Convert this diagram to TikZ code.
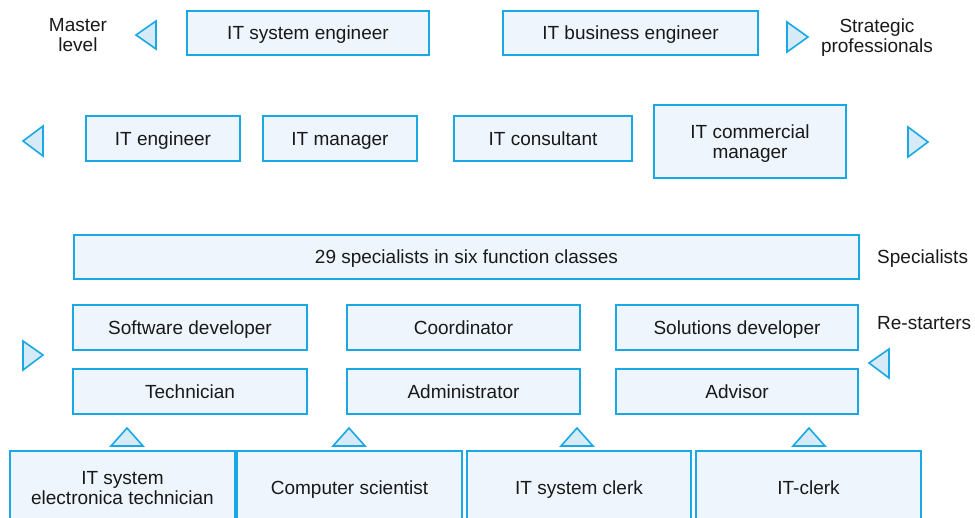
\documentclass[tikz,border=0pt]{standalone}
\usepackage{fontspec}
\setmainfont{Liberation Sans}
\begin{document}
\begin{tikzpicture}[x=1pt,y=-1pt,
  every node/.style={font=\fontsize{19}{20}\selectfont, text=black!90, align=center, inner sep=0pt,
    text height=13.6pt, text depth=0pt},
  twoline/.style={text height=33.6pt},
  box/.style={draw=edgeblue, fill=boxfill, line width=1.6pt},
  tri/.style={draw=edgeblue, fill=trifill, line width=1.6pt, line join=miter}]
\definecolor{edgeblue}{HTML}{1AA8E4}
\definecolor{boxfill}{HTML}{EEF5FC}
\definecolor{trifill}{HTML}{D6EAF8}
\useasboundingbox (0,0) rectangle (975,517);
\clip (0,0) rectangle (975,517);

% master / strategic level
\node[twoline] (master) at (78,35) {Master\\level};
\node[twoline] (strat) at (877,36) {Strategic\\professionals};
\node[box, minimum width=242pt, minimum height=44pt] (syseng) at (308,33) {IT system engineer};
\node[box, minimum width=255pt, minimum height=44pt] (buseng) at (630.5,33) {IT business engineer};
\draw[tri] (136,35) -- (156,21) -- (156,49) -- cycle;
\draw[tri] (808,37) -- (787,22) -- (787,52) -- cycle;

% professional level
\node[box, minimum width=154pt, minimum height=45pt] (iteng) at (163,138.5) {IT engineer};
\node[box, minimum width=154pt, minimum height=45pt] (itmgr) at (340,138.5) {IT manager};
\node[box, minimum width=178pt, minimum height=45pt] (itcons) at (543,138.5) {IT consultant};
\node[box, twoline, minimum width=192pt, minimum height=73pt] (itcomm) at (750,141.5) {IT commercial\\manager};
\draw[tri] (23,141) -- (43,126) -- (43,156) -- cycle;
\draw[tri] (928,142) -- (908,127) -- (908,157) -- cycle;

% specialists
\node[box, minimum width=785pt, minimum height=44pt] (spec) at (466.5,257) {29 specialists in six function classes};
\node[anchor=west] (speclbl) at (877,257) {Specialists};
\node[anchor=west] (restart) at (877,323) {Re-starters};

\node[box, minimum width=234pt, minimum height=45pt] (swdev) at (190,327.5) {Software developer};
\node[box, minimum width=233pt, minimum height=45pt] (coord) at (463.5,327.5) {Coordinator};
\node[box, minimum width=242pt, minimum height=45pt] (soldev) at (737,327.5) {Solutions developer};
\node[box, minimum width=234pt, minimum height=45pt] (tech) at (190,391.5) {Technician};
\node[box, minimum width=233pt, minimum height=45pt] (admin) at (463.5,391.5) {Administrator};
\node[box, minimum width=242pt, minimum height=45pt] (advis) at (737,391.5) {Advisor};
\draw[tri] (43,355) -- (23,341) -- (23,370) -- cycle;
\draw[tri] (869,363) -- (889,349) -- (889,378) -- cycle;

% entry level
\draw[tri] (127,428) -- (111,446) -- (143,446) -- cycle;
\draw[tri] (349,428) -- (333,446) -- (365,446) -- cycle;
\draw[tri] (577,428) -- (561,446) -- (593,446) -- cycle;
\draw[tri] (809,428) -- (793,446) -- (825,446) -- cycle;
\node[box, twoline, minimum width=225pt, minimum height=74pt] (elec) at (122.5,488) {IT system\\electronica technician};
\node[box, minimum width=225pt, minimum height=74pt] (compsci) at (349.5,488) {Computer scientist};
\node[box, minimum width=224pt, minimum height=74pt] (sysclerk) at (579,488) {IT system clerk};
\node[box, minimum width=225pt, minimum height=74pt] (itclerk) at (808.5,488) {IT-clerk};
\end{tikzpicture}
\end{document}
